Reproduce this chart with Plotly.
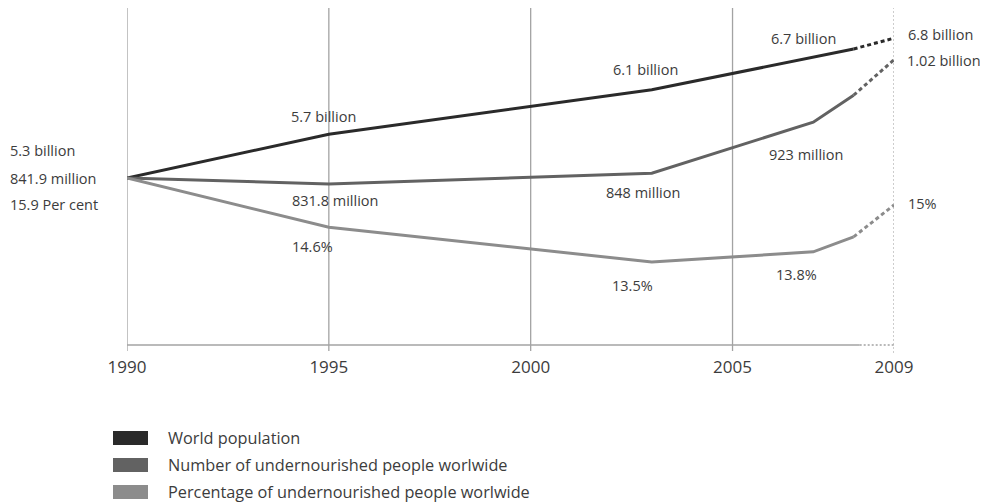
import plotly.graph_objects as go

# ---- data (index; 1990 = 0) ----
pop_years = [1990, 1995, 2003, 2007, 2008]
pop_vals = [0, 7.3, 14.7, 20.2, 21.5]
pop_proj_years = [2008, 2009]
pop_proj_vals = [21.5, 23.3]

und_years = [1990, 1995, 2003, 2007, 2008]
und_vals = [0, -1.0, 0.8, 9.3, 13.8]
und_proj_years = [2008, 2009]
und_proj_vals = [13.8, 19.7]

pct_years = [1990, 1995, 2003, 2007, 2008]
pct_vals = [0, -8.2, -14.0, -12.3, -9.8]
pct_proj_years = [2008, 2009]
pct_proj_vals = [-9.8, -4.5]

start_labels = ["5.3 billion", "841.9 million", "15.9 Per cent"]
pop_labels = {1995: "5.7 billion", 2003: "6.1 billion", 2007: "6.7 billion", 2009: "6.8 billion"}
und_labels = {1995: "831.8 million", 2003: "848 million", 2007: "923 million", 2009: "1.02 billion"}
pct_labels = {1995: "14.6%", 2003: "13.5%", 2007: "13.8%", 2009: "15%"}

grid_years = [1990, 1995, 2000, 2005]
tick_years = [1990, 1995, 2000, 2005, 2009]
series_names = ["World population", "Number of undernourished people worlwide",
                "Percentage of undernourished people worlwide"]
colors = ["#2a2a2a", "#626262", "#8c8c8c"]

FONT = "Open Sans"
TXT = "#3c3c3c"

PW = 767.0   # plot width in px
PH = 337.0   # plot height in px

fig = go.Figure()
series = [
    (pop_years, pop_vals, pop_proj_years, pop_proj_vals),
    (und_years, und_vals, und_proj_years, und_proj_vals),
    (pct_years, pct_vals, pct_proj_years, pct_proj_vals),
]
for (xs, ys, pxs, pys), c in zip(series, colors):
    fig.add_trace(go.Scatter(x=xs, y=ys, mode="lines", line=dict(color=c, width=3),
                             showlegend=False, cliponaxis=False, hoverinfo="skip"))
    fig.add_trace(go.Scatter(x=pxs, y=pys, mode="lines",
                             line=dict(color=c, width=3, dash="4px,3px"),
                             showlegend=False, cliponaxis=False, hoverinfo="skip"))

shapes = []
for gy in grid_years:
    shapes.append(dict(type="line", xref="x", yref="paper", x0=gy, x1=gy, y0=0, y1=1,
                       line=dict(color="#a3a3a3", width=1.3), layer="below"))
    shapes.append(dict(type="line", xref="x", yref="paper", ysizemode="pixel", yanchor=0,
                       x0=gy, x1=gy, y0=-6, y1=0, line=dict(color="#a3a3a3", width=1.3)))
shapes.append(dict(type="line", xref="x", yref="paper", ysizemode="pixel", yanchor=0,
                   x0=2009, x1=2009, y0=-8, y1=PH,
                   line=dict(color="#9a9a9a", width=1, dash="2px,2px"), layer="below"))
shapes.append(dict(type="line", xref="x", yref="paper", x0=1990, x1=2008.15, y0=0, y1=0,
                   line=dict(color="#a3a3a3", width=1.5)))
shapes.append(dict(type="line", xref="x", yref="paper", x0=2008.15, x1=2009, y0=0, y1=0,
                   line=dict(color="#a3a3a3", width=1.5, dash="2px,2px")))

annotations = []
# start labels on the left
start_shifts = [28, 0, -26]
for t, s in zip(start_labels, start_shifts):
    annotations.append(dict(xref="paper", yref="y", x=-119 / PW, y=0, xanchor="left",
                            yanchor="middle", yshift=s, text=t, showarrow=False,
                            font=dict(family=FONT, size=14.5, color=TXT)))

def lab(year, yv, text, dx, dy, anchor="center"):
    annotations.append(dict(xref="x", yref="y", x=year, y=yv, text=text, showarrow=False,
                            xanchor=anchor, yanchor="middle", xshift=dx, yshift=dy,
                            font=dict(family=FONT, size=14.5, color=TXT)))

pop_all = dict(zip(pop_years + pop_proj_years, pop_vals + pop_proj_vals))
und_all = dict(zip(und_years + und_proj_years, und_vals + und_proj_vals))
pct_all = dict(zip(pct_years + pct_proj_years, pct_vals + pct_proj_vals))

lab(1995, pop_all[1995], pop_labels[1995], -5, 18)
lab(2003, pop_all[2003], pop_labels[2003], -6, 20)
lab(2007, pop_all[2007], pop_labels[2007], -10, 18)
lab(2009, pop_all[2009], pop_labels[2009], 12, 4, "left")

lab(1995, und_all[1995], und_labels[1995], 6, -16)
lab(2003, und_all[2003], und_labels[2003], -9, -19)
lab(2007, und_all[2007], und_labels[2007], -7, -32)
lab(2009, und_all[2009], und_labels[2009], 11, -1, "left")

lab(1995, pct_all[1995], pct_labels[1995], -16, -19)
lab(2003, pct_all[2003], pct_labels[2003], -19, -23)
lab(2007, pct_all[2007], pct_labels[2007], -17, -23)
lab(2009, pct_all[2009], pct_labels[2009], 12, 2, "left")

# legend (squares + text) under the chart
leg_rows = [438, 465, 492]
for name, c, ry in zip(series_names, colors, leg_rows):
    yp = (345 - ry) / PH
    shapes.append(dict(type="rect", xref="paper", yref="paper", xsizemode="pixel",
                       ysizemode="pixel", xanchor=0, yanchor=yp,
                       x0=113 - 127, x1=148 - 127, y0=-7, y1=7,
                       fillcolor=c, line=dict(width=0)))
    annotations.append(dict(xref="paper", yref="paper", x=(166 - 127) / PW, y=yp,
                            xanchor="left", yanchor="middle", text=name, showarrow=False,
                            font=dict(family=FONT, size=16.3, color=TXT)))

fig.update_layout(
    width=980, height=496,
    margin=dict(l=119, r=94, t=0, b=159),
    paper_bgcolor="white", plot_bgcolor="white",
    showlegend=False,
    shapes=shapes, annotations=annotations,
    xaxis=dict(range=[1990, 2009], tickvals=tick_years, ticktext=[str(t) for t in tick_years],
               showgrid=False, zeroline=False, showline=False,
               ticks="outside", ticklen=7, tickcolor="rgba(0,0,0,0)",
               tickfont=dict(family=FONT, size=17, color=TXT)),
    yaxis=dict(range=[-27.83, 28.33], visible=False, showgrid=False, zeroline=False),
)
fig.write_html("out.html")
